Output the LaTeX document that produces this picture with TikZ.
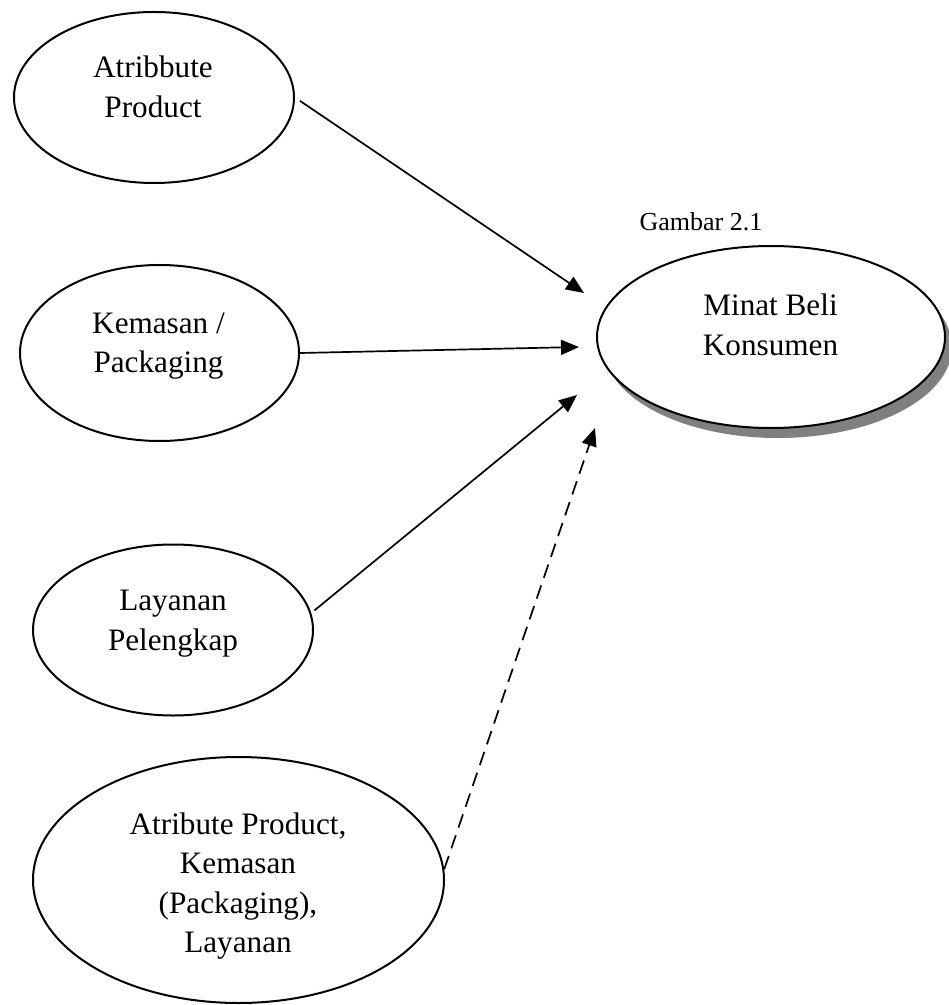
\documentclass[tikz,border=0pt]{standalone}
\usepackage{fontspec}
\setmainfont{Liberation Serif}
\usetikzlibrary{shapes.geometric,arrows.meta,shadows}
\definecolor{shadowgray}{RGB}{128,128,128}

\begin{document}
\begin{tikzpicture}[x=.5pt,y=-.5pt,line width=.85pt,
    blob/.style={ellipse,draw,line width=1pt,inner sep=0pt},
    lbl/.style={align=center,font=\fontsize{15.6}{19.8}\selectfont},
    arr/.style={-{Triangle[length=9pt,width=7.5pt]}}]
        \useasboundingbox (0,0) rectangle (948,1005);
        \node[blob,minimum width=140pt,minimum height=85.5pt] (attr) at (154,97.5) {};
        \node[blob,minimum width=139.5pt,minimum height=88pt] (pack) at (159.5,353) {};
        \node[blob,minimum width=140pt,minimum height=85.5pt] (lay) at (173,630) {};
        \node[blob,minimum width=205.5pt,minimum height=123pt] (comb) at (238.5,880) {};
        \node[blob,minimum width=174pt,minimum height=91pt,fill=white,
              drop shadow={shadow xshift=3.5pt,shadow yshift=-5pt,fill=shadowgray,opacity=1}] (minat) at (771,337) {};
        \node[lbl] (attrtxt) at (153,87) {Atribbute\\Product};
        \node[lbl] (packtxt) at (158.5,346) {Kemasan /\\Packaging};
        \node[lbl] (laytxt) at (173,623.5) {Layanan\\Pelengkap};
        \node[lbl] (combtxt) at (238,886) {Atribute Product,\\Kemasan\\(Packaging),\\Layanan};
        \node[lbl] (minattxt) at (770.5,325) {Minat Beli\\Konsumen};
        \node[anchor=base west,font=\fontsize{13}{15.6}\selectfont] (cap) at (632,231) {Gambar 2.1};
        % arrow ends short of the target
        \coordinate (t1) at (584,293);
        \coordinate (t2) at (579,347);
        \coordinate (t3) at (577,395);
        \coordinate (t4) at (595,428);
        \draw[arr,shorten <=3pt] (attr.east) -- (t1);
        \draw[arr] (pack.east) -- (t2);
        \draw[arr,shorten <=2pt] (lay.7) -- (t3);
        \draw[arr,dash pattern=on 7pt off 4pt] (comb.3) -- (t4);
    \end{tikzpicture}
\end{document}
